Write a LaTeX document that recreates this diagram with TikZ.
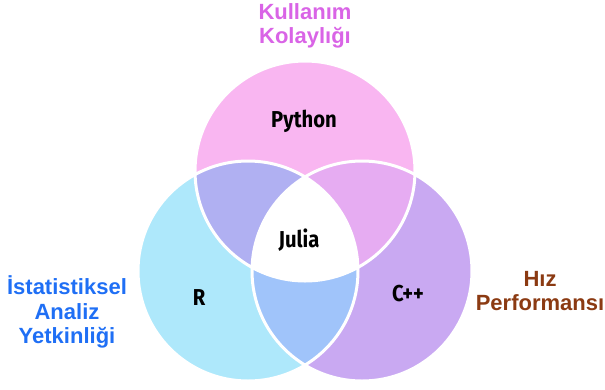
\documentclass[tikz,border=0pt]{standalone}
\usepackage{fontspec}
\setmainfont{Liberation Sans}
\newfontfamily\lblfont{Fira Sans}
\definecolor{cpink}{HTML}{F9B6F1}
\definecolor{ccyan}{HTML}{AEE8FB}
\definecolor{cpurp}{HTML}{C9A9F2}
\definecolor{ctl}{HTML}{B0B0F2}
\definecolor{ctr}{HTML}{E6ACF2}
\definecolor{cbot}{HTML}{A0C4FA}
\definecolor{cmag}{HTML}{D964E6}
\definecolor{cblue}{HTML}{1F6FF5}
\definecolor{cbrown}{HTML}{8B3A12}
\tikzset{
  cat/.style={align=center,inner sep=0pt,font=\fontsize{22}{24.5}\selectfont\bfseries},
  lang/.style={inner sep=0pt,font=\lblfont\fontsize{23}{26}\selectfont\bfseries},
  rim/.style={draw=white,line width=3pt}
}
\begin{document}
\begin{tikzpicture}[x=1pt,y=-1pt]
\useasboundingbox (0,0) rectangle (605,389);
\coordinate (T) at (305,171);
\coordinate (L) at (248,271);
\coordinate (Rc) at (362,271);
\fill[cpink] (T) circle[radius=110pt];
\fill[ccyan] (L) circle[radius=110pt];
\fill[cpurp] (Rc) circle[radius=110pt];
\begin{scope}
  \clip (T) circle[radius=110pt];
  \fill[ctl] (L) circle[radius=110pt];
\end{scope}
\begin{scope}
  \clip (T) circle[radius=110pt];
  \fill[ctr] (Rc) circle[radius=110pt];
\end{scope}
\begin{scope}
  \clip (L) circle[radius=110pt];
  \fill[cbot] (Rc) circle[radius=110pt];
\end{scope}
\begin{scope}
  \clip (T) circle[radius=110pt];
  \clip (L) circle[radius=110pt];
  \fill[white] (Rc) circle[radius=110pt];
\end{scope}
\draw[rim] (T) circle[radius=110pt];
\draw[rim] (L) circle[radius=110pt];
\draw[rim] (Rc) circle[radius=110pt];
\node[lang] (py) at (304,121) {\scalebox{0.88}[1]{Python}};
\node[lang] (jl) at (299,240) {\scalebox{0.88}[1]{Julia}};
\node[lang] (r) at (199,298) {\scalebox{0.88}[1]{R}};
\node[lang] (cpp) at (408,294) {\scalebox{0.88}[1]{C++}};
\node[cat,text=cmag] (ease) at (305,26) {Kullanım\\Kolaylığı};
\node[cat,text=cblue] (stat) at (67,312) {İstatistiksel\\Analiz\\Yetkinliği};
\node[cat,text=cbrown] (speed) at (540,291) {Hız\\Performansı};
\end{tikzpicture}
\end{document}
